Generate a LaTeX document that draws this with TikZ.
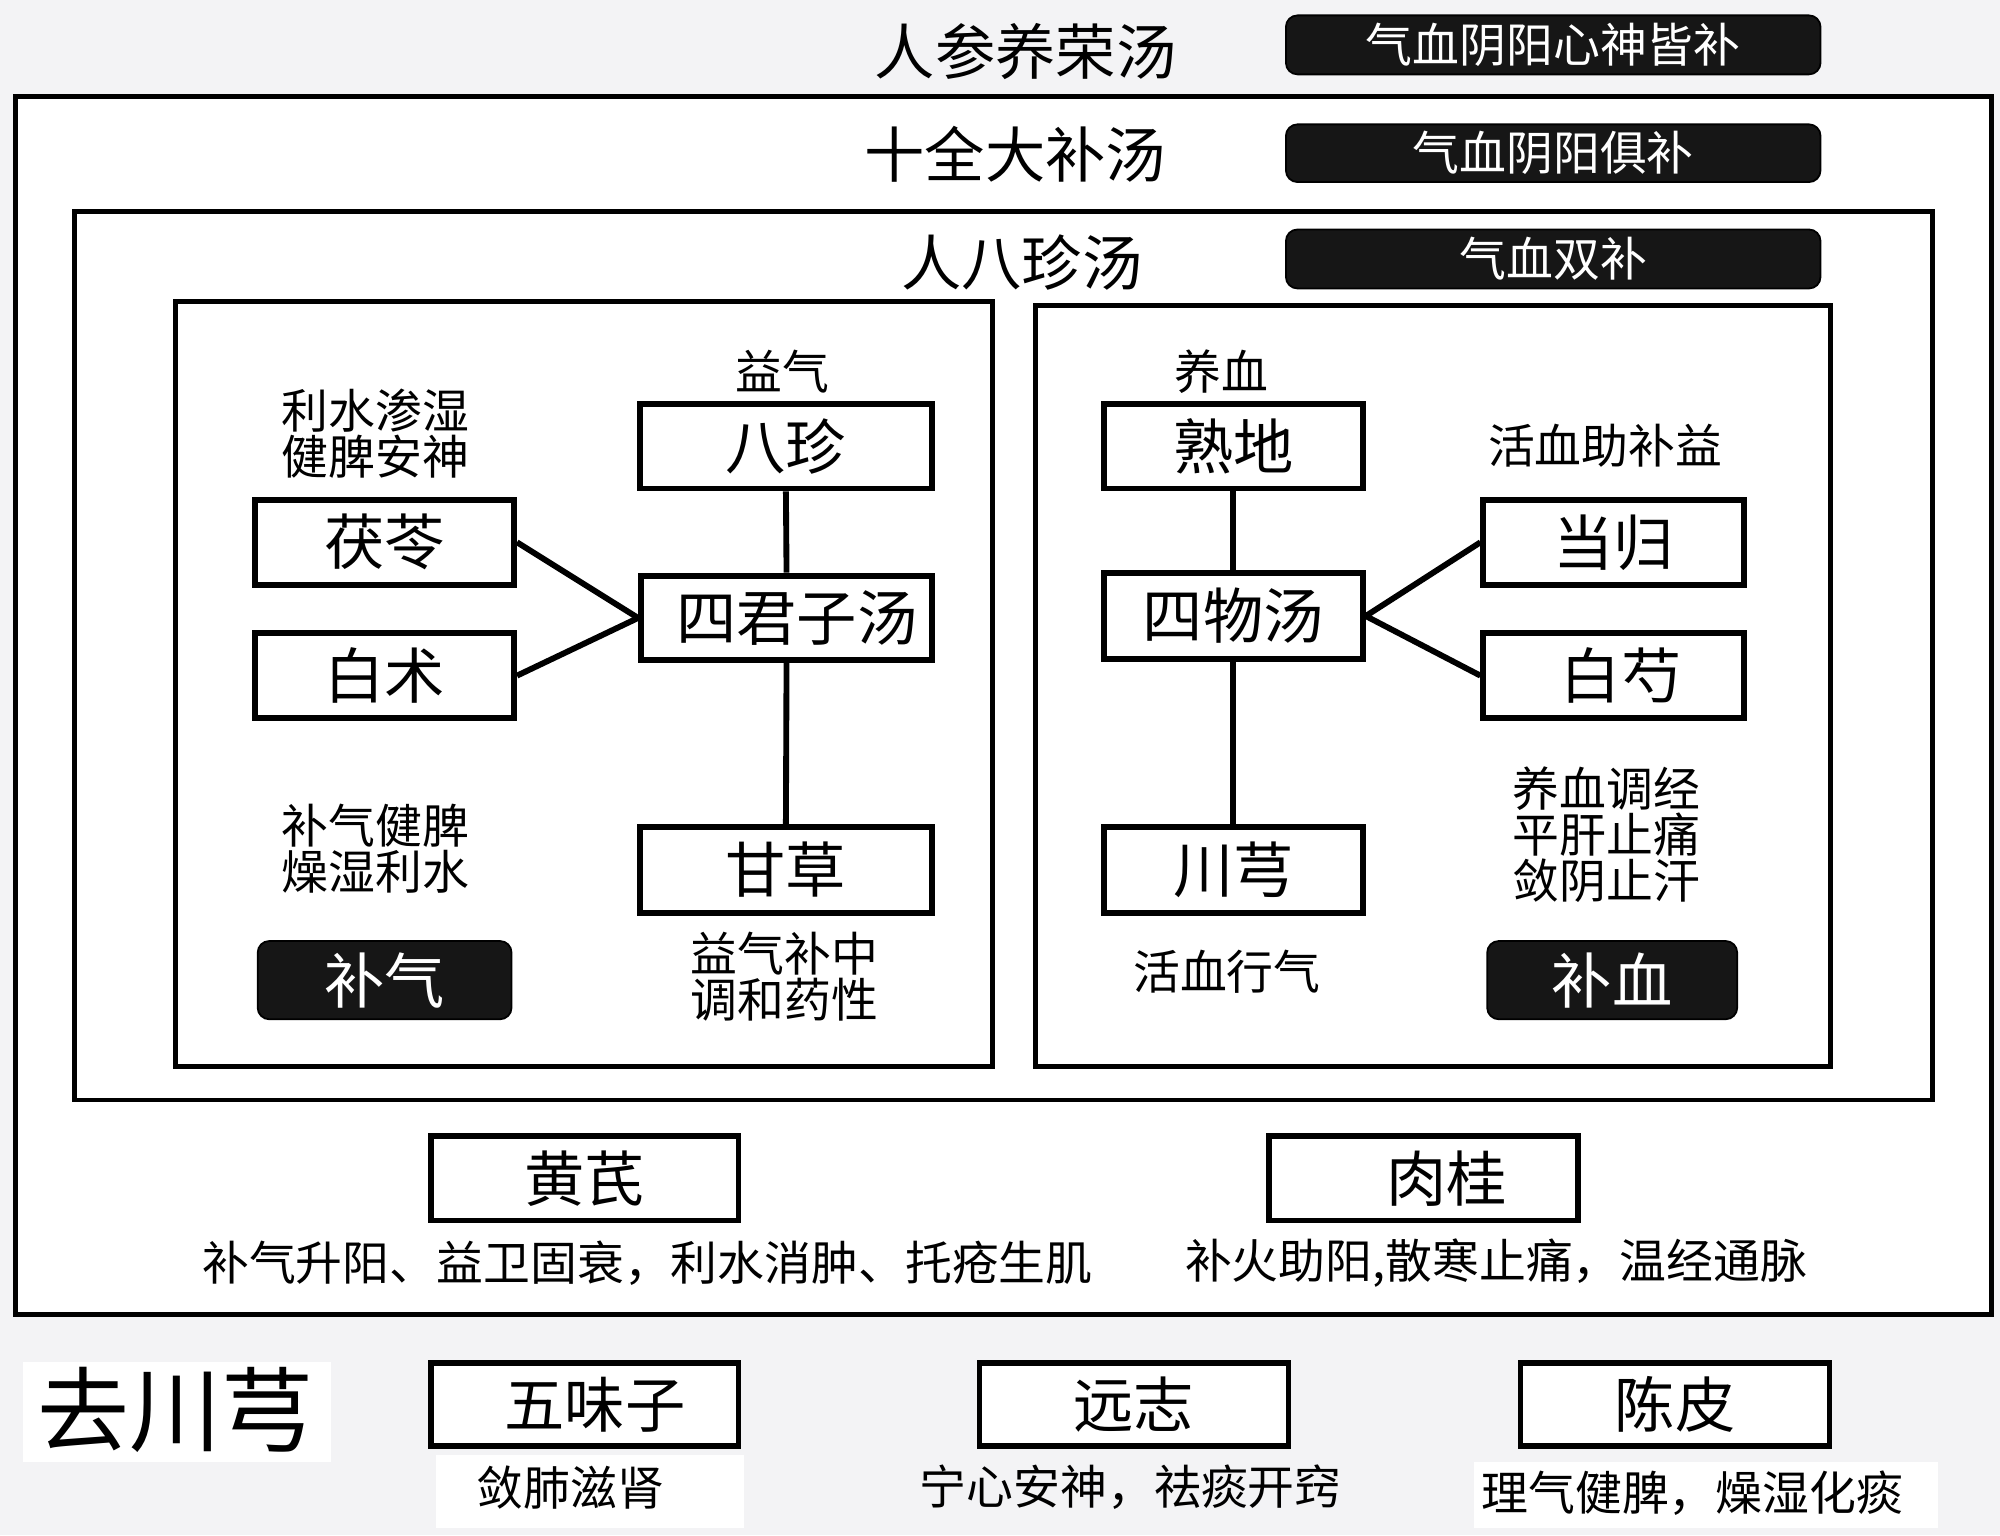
\documentclass[tikz,border=0pt]{standalone}
\usepackage{fontspec}
\setmainfont{Noto Sans CJK SC}
\newfontfamily\cjklight{Noto Sans CJK SC}
\newcommand{\fszA}{\cjklight\fontsize{66.9pt}{80pt}\selectfont}
\newcommand{\fszB}{\cjklight\fontsize{52pt}{51.2pt}\selectfont}
\newcommand{\fszC}{\cjklight\fontsize{102pt}{110pt}\selectfont}
\definecolor{bgray}{HTML}{F3F3F5}
\definecolor{blk}{HTML}{161616}
\begin{document}
\begin{tikzpicture}[x=0.05cm,y=-0.05cm,
  herb/.style={draw=black,line width=6.5pt,fill=white,inner sep=0pt,font=\fszA},
  darkbox/.style={draw=black,line width=2pt,fill=blk,rounded corners=0.45cm,inner sep=0pt,text=white,font=\fszB},
  darkboxA/.style={draw=black,line width=2pt,fill=blk,rounded corners=0.45cm,inner sep=0pt,text=white,font=\fszA},
  frame/.style={draw=black,line width=5.5pt},
  conn/.style={draw=black,line width=6.5pt},
  lbl/.style={inner sep=0pt,font=\fszB,align=center},
  ttl/.style={inner sep=0pt,font=\fszA}]
\useasboundingbox (0,0) rectangle (1560,1197.3);
\fill[bgray] (0,0) rectangle (1560,1197.3);
% frames
\draw[frame,fill=white] (12,75) rectangle (1553,1025);
\draw[frame] (58,165) rectangle (1507,858);
\draw[frame] (137,235) rectangle (774,832);
\draw[frame] (808,238) rectangle (1428,832);
% white patches in bottom band
\fill[white] (18,1062) rectangle (258,1140);
\fill[white] (340,1135) rectangle (580,1192);
\fill[white] (1150,1140) rectangle (1512,1192);
% titles
\node[ttl] (t1) at (800,40) {人参养荣汤};
\node[ttl] (t2) at (792,120) {十全大补汤};
\node[ttl] (t3) at (797,205) {人八珍汤};
\node[darkbox,minimum width=20.85cm,minimum height=2.3cm] (d1) at (1211.5,35) {气血阴阳心神皆补};
\node[darkbox,minimum width=20.85cm,minimum height=2.25cm] (d2) at (1211.5,119.5) {气血阴阳俱补};
\node[darkbox,minimum width=20.85cm,minimum height=2.3cm] (d3) at (1211.5,202) {气血双补};
% left panel
\node[lbl] (l1) at (610,290) {益气};
\node[lbl] (l2) at (293,338) {利水渗湿\\健脾安神};
\node[herb,minimum width=11.4cm,minimum height=3.3cm] (bazhen) at (613,348) {八珍};
\node[herb,minimum width=10.1cm,minimum height=3.3cm] (fuling) at (300,423) {茯苓};
\node[herb,minimum width=11.35cm,minimum height=3.3cm] (sijunzi) at (613.5,482) {\hspace*{0.8cm}四君子汤};
\node[herb,minimum width=10.1cm,minimum height=3.3cm] (baizhu) at (300,527) {白术};
\node[herb,minimum width=11.4cm,minimum height=3.35cm] (gancao) at (613,678.5) {甘草};
\node[lbl] (l3) at (293,662) {补气健脾\\燥湿利水};
\node[darkboxA,minimum width=9.9cm,minimum height=3.05cm] (buqi) at (300,764.5) {补气};
\node[lbl] (l4) at (612,762) {益气补中\\调和药性};
\draw[conn] (bazhen.south) -- (sijunzi.north);
\draw[conn] (sijunzi.south) -- (gancao.north);
\draw[conn] (fuling.east) -- (sijunzi.west);
\draw[conn] (baizhu.east) -- (sijunzi.west);
% right panel
\node[lbl] (r1) at (953,290) {养血};
\node[herb,minimum width=10.1cm,minimum height=3.3cm] (shudi) at (962,348) {熟地};
\node[lbl] (r2) at (1252,348) {活血助补益};
\node[herb,minimum width=10.15cm,minimum height=3.3cm] (danggui) at (1258.5,423) {当归};
\node[herb,minimum width=10.1cm,minimum height=3.35cm] (siwu) at (962,480.5) {四物汤};
\node[herb,minimum width=10.15cm,minimum height=3.3cm] (baishao) at (1258.5,527) {\hspace*{0.6cm}白芍};
\node[herb,minimum width=10.1cm,minimum height=3.35cm] (chuanxiong) at (962,678.5) {川芎};
\node[lbl] (r3) at (1253,651) {养血调经\\平肝止痛\\敛阴止汗};
\node[lbl] (r4) at (957,758) {活血行气};
\node[darkboxA,minimum width=9.75cm,minimum height=3.05cm] (buxue) at (1257.5,764.5) {补血};
\draw[conn] (shudi.south) -- (siwu.north);
\draw[conn] (siwu.south) -- (chuanxiong.north);
\draw[conn] (siwu.east) -- (danggui.west);
\draw[conn] (siwu.east) -- (baishao.west);
% bottom of outer frame
\node[herb,minimum width=12cm,minimum height=3.3cm] (huangqi) at (456,919) {黄芪};
\node[herb,minimum width=12.05cm,minimum height=3.3cm] (rougui) at (1110.5,919) {\hspace*{1.8cm}肉桂};
\node[lbl] (b1) at (505,985) {补气升阳、益卫固衰，利水消肿、托疮生肌};
\node[lbl] (b2) at (1167,985) {补火助阳,散寒止痛，温经通脉};
% below
\node[inner sep=0pt,font=\fszC] (qu) at (137,1100) {去川芎};
\node[herb,minimum width=12cm,minimum height=3.25cm] (wuwei) at (456,1095.5) {\hspace*{0.8cm}五味子};
\node[herb,minimum width=12.05cm,minimum height=3.25cm] (yuanzhi) at (884.5,1095.5) {远志};
\node[herb,minimum width=12.05cm,minimum height=3.25cm] (chenpi) at (1306.5,1095.5) {陈皮};
\node[lbl] (c1) at (445,1160) {敛肺滋肾};
\node[lbl] (c2) at (882,1160) {宁心安神，祛痰开窍};
\node[lbl] (c3) at (1320,1165) {理气健脾，燥湿化痰};
\end{tikzpicture}
\end{document}
